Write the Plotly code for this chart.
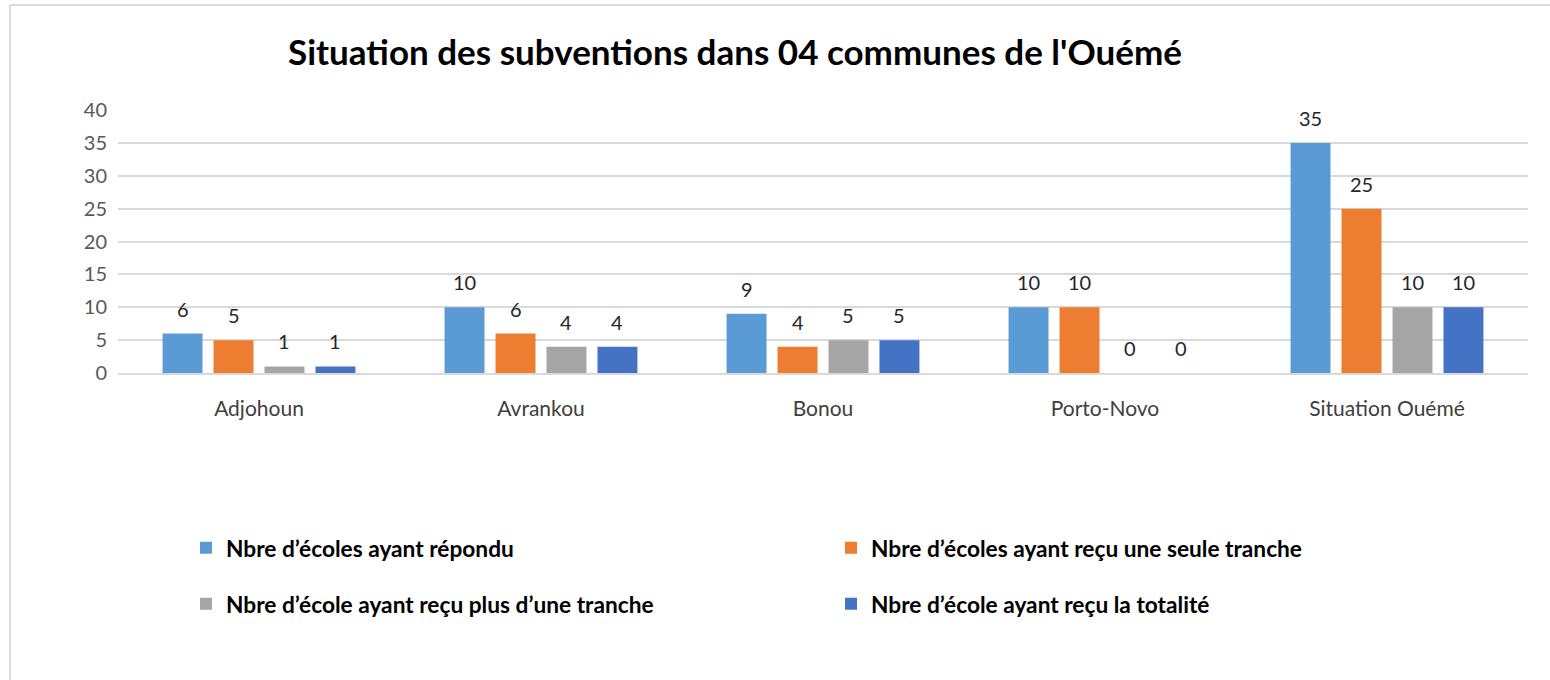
import plotly.graph_objects as go

categories = ["Adjohoun", "Avrankou", "Bonou", "Porto-Novo", "Situation Ouémé"]
series_names = [
    "Nbre d’écoles ayant répondu",
    "Nbre d’écoles ayant reçu une seule tranche",
    "Nbre d’école ayant reçu plus d’une tranche",
    "Nbre d’école ayant reçu la totalité",
]
repondu = [6, 10, 9, 10, 35]
une_tranche = [5, 6, 4, 10, 25]
plus_tranche = [1, 4, 5, 0, 10]
totalite = [1, 4, 5, 0, 10]
all_series = [repondu, une_tranche, plus_tranche, totalite]
colors = ["#5B9BD5", "#ED7D31", "#A5A5A5", "#4472C4"]
legend_ids = ["legend", "legend", "legend2", "legend2"]

FONT = "Lato, Calibri, Carlito, sans-serif"

W, H = 1550, 680
L, R, T, B = 118, 22, 110, 307
pw, ph = W - L - R, H - T - B
BARGAP, GROUPGAP = 0.277, 0.216
n = len(all_series)
cat_w = pw / len(categories)
slot = cat_w * (1 - BARGAP) / n

fig = go.Figure()
annotations = []
for i, (name, vals, col, lg) in enumerate(zip(series_names, all_series, colors, legend_ids)):
    fig.add_trace(go.Bar(
        x=categories, y=vals, name="<b>" + name + "</b>",
        marker=dict(color=col, line=dict(width=0)),
        legend=lg, hoverinfo="x+y",
    ))
    for c, v in zip(categories, vals):
        annotations.append(dict(
            x=c, y=v, xref="x", yref="y", text=str(v), showarrow=False,
            xshift=(i - (n - 1) / 2) * slot, yshift=25, yanchor="middle",
            font=dict(size=20, color="#262626", family=FONT),
        ))

def px_x(x):
    return (x - L) / pw

def px_y(y):
    return (H - B - y) / ph

legend_common = dict(orientation="h", xanchor="left", yanchor="middle",
                     entrywidth=600, entrywidthmode="pixels", itemwidth=30,
                     font=dict(size=22.7, color="black", family=FONT),
                     bgcolor="rgba(0,0,0,0)", tracegroupgap=0)

frame = dict(color="#D9D9D9", width=2)

fig.update_layout(
    width=W, height=H,
    margin=dict(l=L, r=R, t=T, b=B),
    paper_bgcolor="white", plot_bgcolor="white",
    font=dict(family=FONT),
    barmode="group", bargap=BARGAP, bargroupgap=GROUPGAP,
    title=dict(text="<b>Situation des subventions dans 04 communes de l'Ouémé</b>",
               font=dict(size=35, color="black", family=FONT),
               xref="container", yref="container", x=735 / W, y=1 - 53 / H,
               xanchor="center", yanchor="middle"),
    xaxis=dict(tickfont=dict(size=21, color="#404040", family=FONT),
               showgrid=False, showline=True, linecolor="#D9D9D9", linewidth=1.5,
               ticks="", ticklabelstandoff=16),
    yaxis=dict(range=[0, 40], dtick=5, tickfont=dict(size=20, color="#595959", family=FONT),
               showgrid=True, gridcolor="#D9D9D9", gridwidth=1.5, zeroline=False,
               showline=False, ticks="", ticklabelstandoff=10),
    legend=dict(x=px_x(186), y=px_y(548), **legend_common),
    legend2=dict(x=px_x(186), y=px_y(604), **legend_common),
    annotations=annotations,
    shapes=[
        dict(type="line", xref="paper", yref="paper",
             x0=px_x(10), x1=px_x(1560), y0=px_y(5), y1=px_y(5), line=frame, layer="below"),
        dict(type="line", xref="paper", yref="paper",
             x0=px_x(10), x1=px_x(10), y0=px_y(5), y1=px_y(690), line=frame, layer="below"),
    ],
)

fig.write_html("out.html", config={"displayModeBar": False},
               post_script="document.body.style.margin='0';document.body.style.overflow='hidden';")
